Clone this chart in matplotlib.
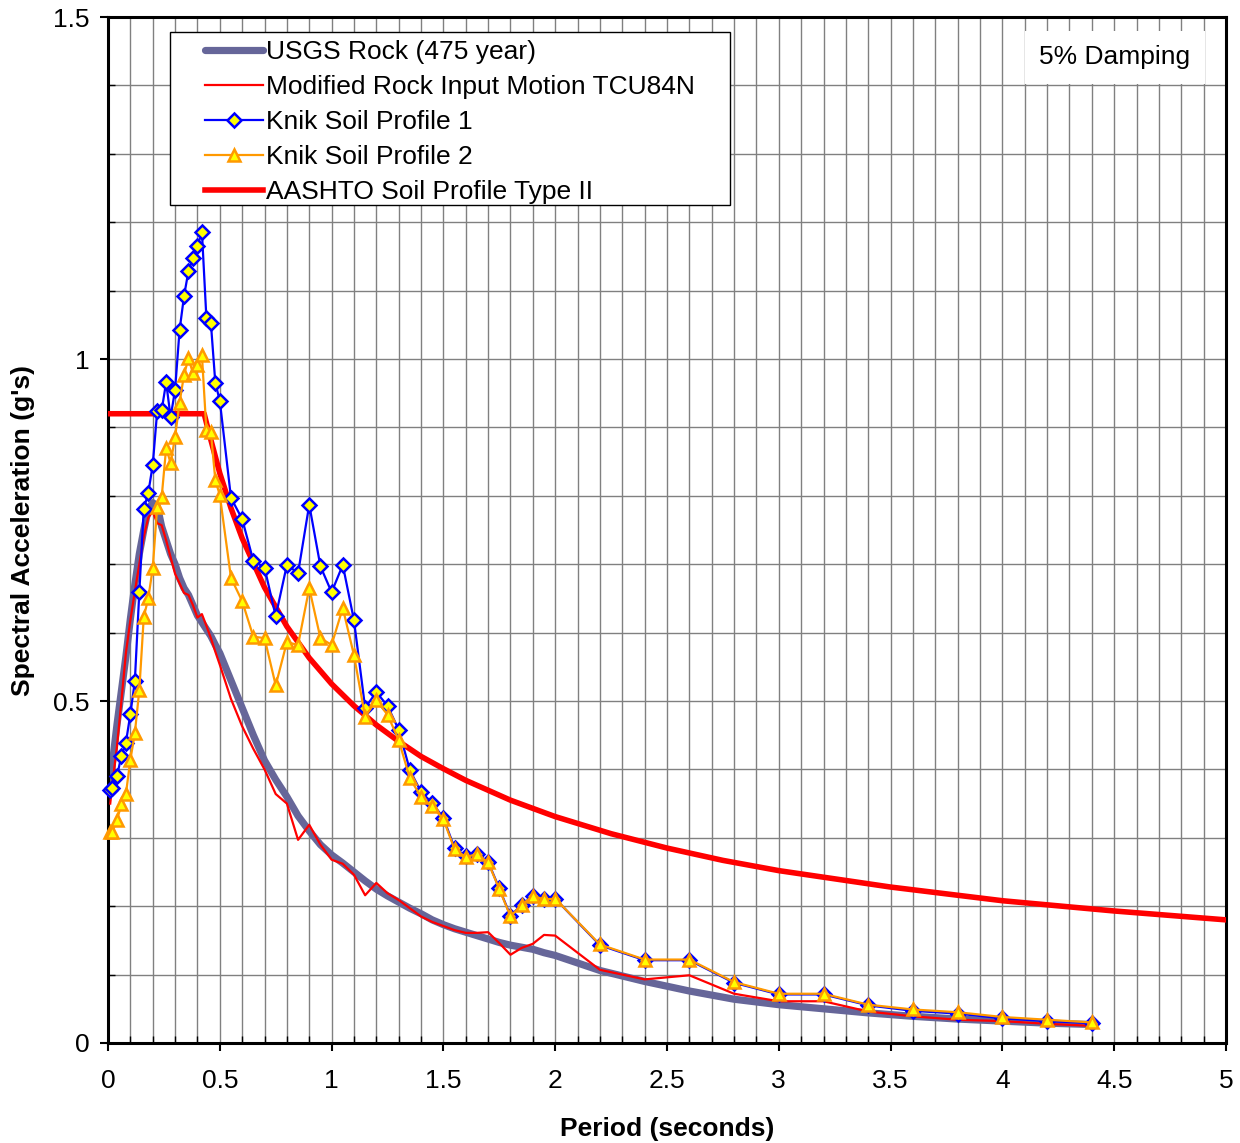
import matplotlib
matplotlib.use('Agg')
from matplotlib import pyplot as plt
from matplotlib.patches import Rectangle
from matplotlib.ticker import MultipleLocator, FuncFormatter

plt.rcParams['font.family'] = ['Liberation Sans', 'DejaVu Sans']

######################### DATOS #########################
# periods (s) of the computed spectra
periodo = [0.01, 0.02, 0.04, 0.06, 0.08, 0.10, 0.12, 0.14, 0.16, 0.18, 0.20, 0.22, 0.24,
           0.26, 0.28, 0.30, 0.32, 0.34, 0.36, 0.38, 0.40, 0.42, 0.44, 0.46, 0.48, 0.50,
           0.55, 0.60, 0.65, 0.70, 0.75, 0.80, 0.85, 0.90, 0.95, 1.00, 1.05, 1.10, 1.15,
           1.20, 1.25, 1.30, 1.35, 1.40, 1.45, 1.50, 1.55, 1.60, 1.65, 1.70, 1.75, 1.80,
           1.85, 1.90, 1.95, 2.00,
           2.2, 2.4, 2.6, 2.8, 3.0, 3.2, 3.4, 3.6, 3.8, 4.0, 4.2, 4.4]

usgs_rock = [0.370, 0.410, 0.465, 0.515, 0.565, 0.620, 0.670, 0.715, 0.750, 0.780, 0.790, 0.785, 0.755,
             0.735, 0.715, 0.700, 0.680, 0.665, 0.655, 0.640, 0.625, 0.615, 0.605, 0.595, 0.582, 0.570,
             0.530, 0.490, 0.450, 0.413, 0.385, 0.360, 0.332, 0.310, 0.290, 0.275, 0.263, 0.250, 0.237,
             0.225, 0.215, 0.206, 0.197, 0.189, 0.180, 0.173, 0.167, 0.162, 0.157, 0.152, 0.147, 0.143,
             0.140, 0.137, 0.132, 0.128,
             0.106, 0.090, 0.076, 0.064, 0.056, 0.050, 0.044, 0.039, 0.035, 0.032, 0.029, 0.027]

tcu84n = [0.350, 0.380, 0.433, 0.500, 0.570, 0.618, 0.660, 0.700, 0.740, 0.768, 0.777, 0.760, 0.757,
          0.735, 0.710, 0.686, 0.672, 0.658, 0.655, 0.640, 0.622, 0.627, 0.610, 0.592, 0.572, 0.553,
          0.503, 0.463, 0.430, 0.400, 0.364, 0.350, 0.297, 0.319, 0.290, 0.268, 0.262, 0.246, 0.216,
          0.234, 0.219, 0.209, 0.197, 0.185, 0.177, 0.171, 0.165, 0.161, 0.161, 0.162, 0.146, 0.129,
          0.139, 0.145, 0.158, 0.157,
          0.107, 0.093, 0.099, 0.072, 0.061, 0.061, 0.046, 0.039, 0.034, 0.032, 0.028, 0.025]

knik1 = [0.370, 0.373, 0.390, 0.420, 0.439, 0.481, 0.529, 0.659, 0.781, 0.804, 0.845, 0.924, 0.925,
         0.966, 0.915, 0.955, 1.042, 1.092, 1.129, 1.148, 1.165, 1.186, 1.060, 1.053, 0.965, 0.939,
         0.797, 0.766, 0.705, 0.695, 0.624, 0.699, 0.687, 0.787, 0.697, 0.659, 0.699, 0.618, 0.490,
         0.513, 0.493, 0.458, 0.399, 0.367, 0.351, 0.329, 0.285, 0.273, 0.276, 0.265, 0.226, 0.186,
         0.202, 0.215, 0.211, 0.211,
         0.143, 0.121, 0.121, 0.088, 0.071, 0.071, 0.055, 0.047, 0.043, 0.036, 0.032, 0.029]

knik2 = [0.309, 0.309, 0.326, 0.349, 0.364, 0.414, 0.453, 0.516, 0.623, 0.650, 0.694, 0.784, 0.798,
         0.870, 0.848, 0.886, 0.936, 0.977, 1.001, 0.979, 0.991, 1.006, 0.896, 0.893, 0.823, 0.801,
         0.680, 0.646, 0.594, 0.592, 0.523, 0.586, 0.582, 0.665, 0.592, 0.582, 0.636, 0.567, 0.477,
         0.501, 0.480, 0.443, 0.387, 0.360, 0.346, 0.327, 0.283, 0.272, 0.276, 0.264, 0.225, 0.185,
         0.202, 0.215, 0.210, 0.211,
         0.144, 0.122, 0.122, 0.089, 0.072, 0.072, 0.056, 0.049, 0.045, 0.038, 0.034, 0.030]

# AASHTO design spectrum, soil profile type II
periodo_aashto = [0.0, 0.43, 0.45, 0.5, 0.55, 0.6, 0.7, 0.8, 0.9, 1.0, 1.1, 1.2, 1.3, 1.4, 1.5,
                  1.6, 1.8, 2.0, 2.25, 2.5, 2.75, 3.0, 3.5, 4.0, 4.5, 5.0]
aashto = [0.920, 0.920, 0.894, 0.833, 0.782, 0.738, 0.666, 0.609, 0.563, 0.525, 0.493, 0.465,
          0.441, 0.419, 0.401, 0.384, 0.355, 0.331, 0.306, 0.285, 0.267, 0.252, 0.228, 0.208,
          0.193, 0.180]

######################### FIGURA #########################
fig = plt.figure(figsize=(12.4, 11.43), dpi=100)
ax = fig.add_axes([0.0871, 0.0875, 0.9016, 0.8976])

ax.plot(periodo, usgs_rock, color='#666699', lw=5.2, solid_capstyle='round',
        zorder=2, label='USGS Rock (475 year)')
ax.plot(periodo, tcu84n, color='#ff0000', lw=1.6, zorder=3,
        label='Modified Rock Input Motion TCU84N')
ax.plot(periodo, knik1, color='#0000ff', lw=1.6, marker='D', ms=6.8, mfc='#ffff00',
        mec='#0000ff', mew=1.8, zorder=5, clip_on=False, label='Knik Soil Profile 1')
ax.plot(periodo, knik2, color='#ff9900', lw=1.6, marker='^', ms=9, mfc='#ffff00',
        mec='#ff9900', mew=1.8, zorder=6, clip_on=False, label='Knik Soil Profile 2')
ax.plot(periodo_aashto, aashto, color='#ff0000', lw=4, zorder=4,
        label='AASHTO Soil Profile Type II')

ax.set_xlim(0, 5)
ax.set_ylim(0, 1.5)
ax.xaxis.set_major_locator(MultipleLocator(0.5))
ax.xaxis.set_minor_locator(MultipleLocator(0.1))
ax.yaxis.set_major_locator(MultipleLocator(0.5))
ax.yaxis.set_minor_locator(MultipleLocator(0.1))
fmt = FuncFormatter(lambda v, p: '%g' % v)
ax.xaxis.set_major_formatter(fmt)
ax.yaxis.set_major_formatter(fmt)

ax.grid(which='both', color='#808080', lw=1.0)
ax.set_axisbelow(True)
ax.tick_params(which='major', direction='out', length=6, width=1.5, labelsize=19,
               colors='black')
ax.tick_params(axis='x', which='major', pad=13)
ax.tick_params(axis='y', which='major', pad=7)
ax.tick_params(which='minor', direction='in', length=5, width=1.0)
for s in ax.spines.values():
    s.set_linewidth(2.2)
    s.set_color('black')

ax.set_xlabel('Period (seconds)', fontsize=19, fontweight='bold', labelpad=17)
ax.set_ylabel("Spectral Acceleration (g's)", fontsize=19, fontweight='bold', labelpad=13)

# legend box drawn by hand so the handles sit inset like the original
ax.add_patch(Rectangle((0.0555, 0.8168), 0.5009, 0.1686, transform=ax.transAxes,
                       facecolor='white', edgecolor='black', lw=1.0, zorder=7))
leg = ax.legend(loc='upper left', bbox_to_anchor=(0.0868, 0.9776), borderaxespad=0,
                borderpad=0, frameon=False, fontsize=19, handlelength=2.2,
                handletextpad=0.12, labelspacing=0.42, numpoints=1)
leg.set_zorder(8)

ax.text(0.9007, 0.961, '5% Damping', transform=ax.transAxes, fontsize=19,
        ha='center', va='center', zorder=7,
        bbox=dict(boxstyle='square,pad=0.55', facecolor='white', edgecolor='none'))

plt.savefig('out.png', dpi=100)
